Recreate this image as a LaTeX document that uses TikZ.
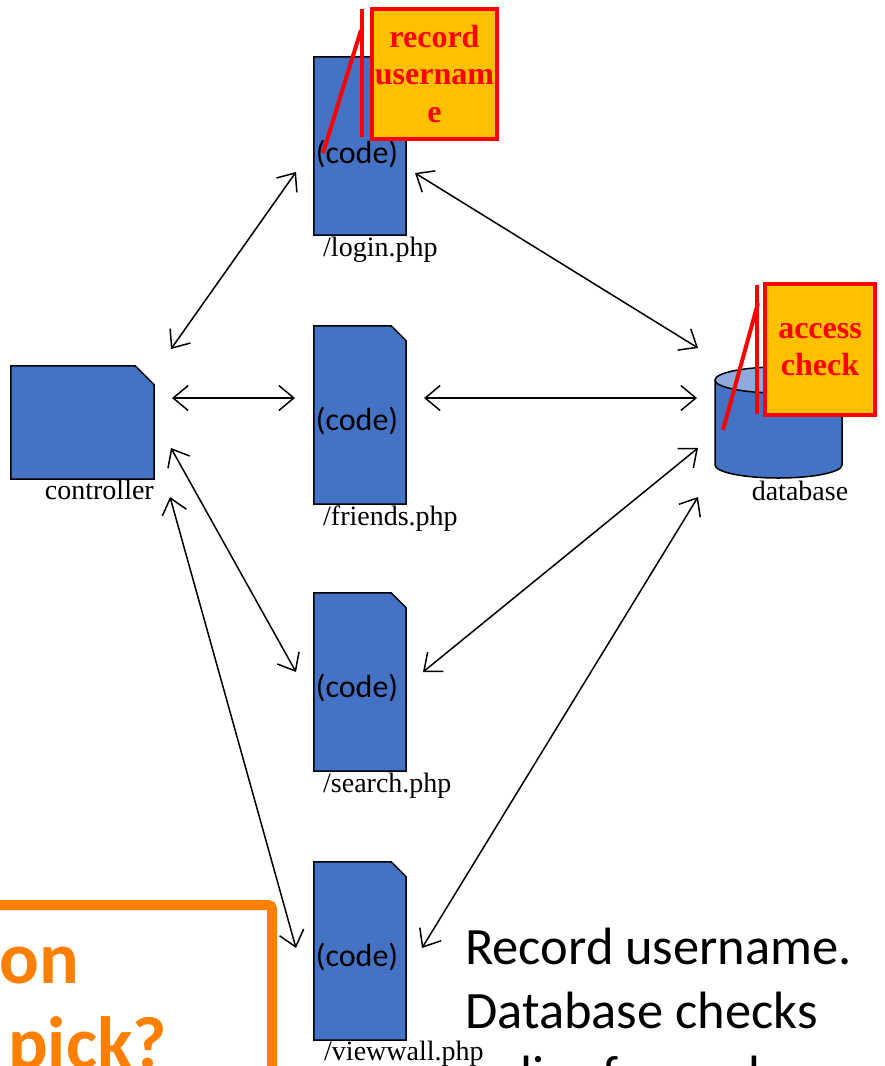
\documentclass[tikz,border=0pt]{standalone}
\usepackage{fontspec}
\setmainfont{Liberation Serif}
\newfontfamily\slidesans{Carlito}
\usetikzlibrary{arrows.meta,backgrounds}

\definecolor{boxblue}{HTML}{4472C4}
\definecolor{toplight}{HTML}{8FAADC}
\definecolor{notefill}{HTML}{FFC000}
\definecolor{notered}{HTML}{FF0000}
\definecolor{askorange}{HTML}{FF8000}

% blue page/box outline with one cut corner (north east)
\newcommand\cutcornerbox[2]{%
  \draw[shapeline] (#1.south west) -- (#1.north west) -- ([xshift=-#2pt]#1.north east)
    -- ([yshift=-#2pt]#1.north east) -- (#1.south east) -- cycle;}

\begin{document}
\begin{tikzpicture}[x=1pt,y=-1pt,
  shapeline/.style={fill=boxblue,draw=black,line width=1.5pt,line join=miter},
  codebox/.style={minimum width=92pt,minimum height=178pt,inner sep=0pt},
  codetext/.style={font=\slidesans\fontsize{32}{36}\selectfont,inner sep=0pt},
  filename/.style={font=\fontsize{28}{32}\selectfont,inner sep=0pt,anchor=base west},
  link/.style={line width=1.5pt,
    {Straight Barb[length=15pt,width=25pt]}-{Straight Barb[length=15pt,width=25pt]}},
  note/.style={draw=notered,line width=4pt,fill=notefill,text=notered,align=center,
    inner sep=0pt,font=\bfseries\fontsize{32}{37.5}\selectfont},
  noteline/.style={draw=notered,line width=4pt},
  asktext/.style={text=askorange,font=\slidesans\bfseries\fontsize{74}{86}\selectfont,
    inner sep=0pt,anchor=base west},
]
\useasboundingbox (0,0) rectangle (885,1066);

% ---- controller
\node[minimum width=143pt,minimum height=113pt,inner sep=0pt] (ctrl) at (82.5,422.5) {};
\node[filename,anchor=base east] (ctrl-lbl) at (154,499) {controller};

% ---- php pages
\node[codebox] (login)    at (360,146) {};
\node[codebox] (friends)  at (360,415) {};
\node[codebox] (search)   at (360,682) {};
\node[codebox] (viewwall) at (360,951) {};

\node[codetext] (login-code)    at (357,154) {(code)};
\node[codetext] (friends-code)  at (357,421) {(code)};
\node[codetext] (search-code)   at (357,688) {(code)};
\node[codetext] (viewwall-code) at (357,957) {(code)};

\node[filename] (login-lbl)    at (323,256)  {/login.php};
\node[filename] (friends-lbl)  at (323,525)  {/friends.php};
\node[filename] (search-lbl)   at (323,792)  {/search.php};
\node[filename] (viewwall-lbl) at (324,1060) {/viewwall.php};

% ---- database
\node[minimum width=127pt,minimum height=124pt,inner sep=0pt] (db) at (778.5,422.5) {};
\node[filename,anchor=base] (db-lbl) at (800,500) {database};

\begin{scope}[on background layer]
  \cutcornerbox{ctrl}{19}
  \cutcornerbox{login}{15}
  \cutcornerbox{friends}{15}
  \cutcornerbox{search}{15}
  \cutcornerbox{viewwall}{15}
  \draw[shapeline] (715,380) -- (715,465)
    arc[start angle=180,end angle=360,x radius=63.5pt,y radius=13pt] -- (842,380) -- cycle;
  \draw[shapeline,fill=toplight] (778.5,380) ellipse[x radius=63.5pt,y radius=13pt];
\end{scope}

% ---- connector end points
\coordinate (c-l) at (171,349);  \coordinate (l-c) at (296,172);
\coordinate (l-d) at (415,173);  \coordinate (d-l) at (698,348);
\coordinate (c-f) at (172,398);  \coordinate (f-c) at (295,398);
\coordinate (f-d) at (424,398);  \coordinate (d-f) at (697,398);
\coordinate (c-s) at (171,448);  \coordinate (s-c) at (296,672);
\coordinate (c-v) at (170,497);  \coordinate (v-c) at (296,948);
\coordinate (d-s) at (698,448);  \coordinate (s-d) at (423,672);
\coordinate (d-v) at (698,497);  \coordinate (v-d) at (422,948);

\draw[link] (c-l) -- (l-c);
\draw[link] (l-d) -- (d-l);
\draw[link] (c-f) -- (f-c);
\draw[link] (f-d) -- (d-f);
\draw[link] (c-s) -- (s-c);
\draw[link] (c-v) -- (v-c);
\draw[link] (d-s) -- (s-d);
\draw[link] (d-v) -- (v-d);

% ---- callouts
\node[note,minimum width=125pt,minimum height=130pt] (rec) at (434.5,74) {record\\usernam\\e};
\coordinate (rec-bar-top) at (362,9);
\coordinate (rec-bar-bot) at (362,137);
\coordinate (rec-lead) at (361,30);
\coordinate (rec-tip) at (323,153);
\draw[noteline] (rec-bar-top) -- (rec-bar-bot);
\draw[noteline] (rec-lead) -- (rec-tip);

\node[note,minimum width=110pt,minimum height=131pt] (acc) at (820,349.5) {access\\check};
\coordinate (acc-bar-top) at (757,285);
\coordinate (acc-bar-bot) at (757,414);
\coordinate (acc-lead) at (758,303);
\coordinate (acc-tip) at (723,430);
\draw[noteline] (acc-bar-top) -- (acc-bar-bot);
\draw[noteline] (acc-lead) -- (acc-tip);

% ---- question box (bottom left, runs past the page edge)
\draw[askorange,line width=10pt,rounded corners=4pt] (-20,905) -- (272,905) -- (272,1090);
\node[asktext] (ask1) at (-1,983) {on};
\node[asktext] (ask2) at (8,1068) {pick?};

% ---- answer text (last line runs past the bottom edge)
\node[font=\slidesans\fontsize{52.5}{64}\selectfont,inner sep=0pt,anchor=base west,align=left]
  (answer) at (465,1092) {Record username.\\Database checks\\policy for each user};
\end{tikzpicture}
\end{document}
